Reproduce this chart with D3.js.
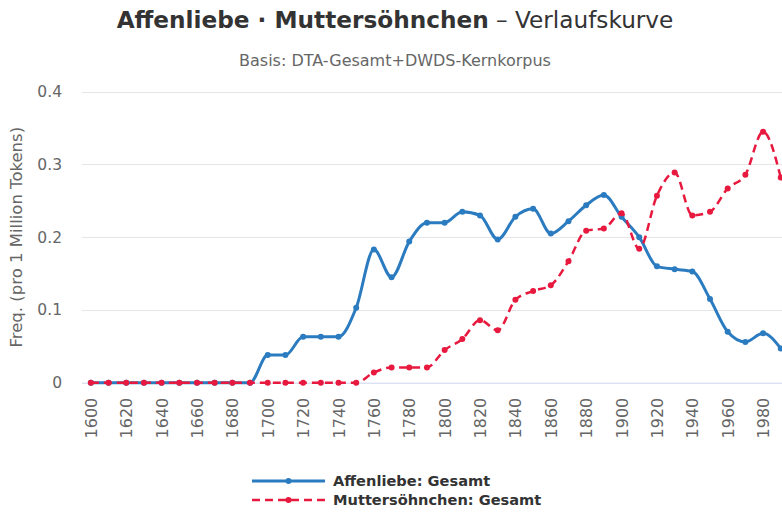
<!DOCTYPE html>
<html>
<head>
<meta charset="utf-8">
<script src="https://cdn.jsdelivr.net/npm/d3@7/dist/d3.min.js"></script>
<style>
  html, body { margin: 0; padding: 0; background: #fff; overflow: hidden; }
  svg { display: block; font-family: "DejaVu Sans", sans-serif; }
</style>
</head>
<body>
<svg id="chart" width="782" height="514"></svg>
<script>
// ---- Data ----
const years = d3.range(1600, 2000, 10);
const xTickLabels = d3.range(1600, 2000, 20);
const yTicks = [0, 0.1, 0.2, 0.3, 0.4];
const seriesNames = ["Affenliebe: Gesamt", "Muttersöhnchen: Gesamt"];
const affenliebe = [
  0, 0, 0, 0, 0, 0, 0, 0, 0, 0,            // 1600-1690
  0.038, 0.038, 0.063, 0.063, 0.063,       // 1700-1740
  0.103, 0.183, 0.145, 0.194, 0.220,       // 1750-1790
  0.220, 0.235, 0.230, 0.197, 0.228,       // 1800-1840
  0.239, 0.205, 0.222, 0.244, 0.258,       // 1850-1890
  0.228, 0.200, 0.160, 0.156, 0.153,       // 1900-1940
  0.115, 0.070, 0.056, 0.068, 0.047        // 1950-1990
];
const muttersoehnchen = [
  0, 0, 0, 0, 0, 0, 0, 0, 0, 0,            // 1600-1690
  0, 0, 0, 0, 0,                           // 1700-1740
  0, 0.014, 0.021, 0.021, 0.021,           // 1750-1790
  0.045, 0.060, 0.086, 0.072, 0.114,       // 1800-1840
  0.126, 0.134, 0.167, 0.209, 0.212,       // 1850-1890
  0.233, 0.184, 0.257, 0.289, 0.230,       // 1900-1940
  0.235, 0.267, 0.286, 0.345, 0.282        // 1950-1990
];
const colors = ["#2b7bc0", "#e8193f"];

// ---- Layout ----
const svg = d3.select("#chart");
const fullW = 790;
const cx = fullW / 2;
const plotLeft = 82, plotTop = 91.7, plotBottom = 382.7;
const step = 17.69;

const x = d3.scaleBand().domain(years).range([plotLeft, plotLeft + years.length * step]).padding(0);
const xc = d => x(d) + x.bandwidth() / 2;
const y = d3.scaleLinear().domain([0, 0.4]).range([plotBottom, plotTop]);

// Title
const title = svg.append("text")
  .attr("x", cx).attr("y", 28)
  .attr("text-anchor", "middle")
  .attr("fill", "#333")
  .style("font-size", "23.2px");
title.append("tspan").attr("font-weight", "bold").text("Affenliebe · Muttersöhnchen");
title.append("tspan").text(" – Verlaufskurve");

svg.append("text")
  .attr("x", cx).attr("y", 66)
  .attr("text-anchor", "middle")
  .attr("fill", "#666")
  .style("font-size", "16px")
  .text("Basis: DTA-Gesamt+DWDS-Kernkorpus");

// Grid
svg.append("g").selectAll("line")
  .data(yTicks.filter(d => d > 0))
  .join("line")
  .attr("x1", plotLeft).attr("x2", fullW)
  .attr("y1", d => Math.round(y(d)) + 0.5).attr("y2", d => Math.round(y(d)) + 0.5)
  .attr("stroke", "#e6e6e6").attr("stroke-width", 1);

// Y axis labels
const yAxis = d3.axisLeft(y).tickValues(yTicks).tickSize(0).tickPadding(20)
  .tickFormat(d => d === 0 ? "0" : d3.format(".1f")(d));
const gy = svg.append("g").attr("transform", `translate(${plotLeft},0)`).call(yAxis);
gy.select(".domain").remove();
gy.selectAll("text").attr("fill", "#666").style("font-size", "15.5px").style("font-family", "DejaVu Sans, sans-serif");

// X axis
const xAxis = d3.axisBottom(x).tickValues(xTickLabels).tickSize(0).tickPadding(0);
const gx = svg.append("g").attr("transform", `translate(0,${plotBottom})`).call(xAxis);
gx.select(".domain").attr("stroke", "#ccd6eb").attr("d", `M${plotLeft},0.5H${fullW}`);
gx.selectAll(".tick text")
  .attr("fill", "#666").style("font-size", "16px").style("font-family", "DejaVu Sans, sans-serif")
  .attr("text-anchor", "end")
  .attr("transform", "translate(6,15) rotate(-90)")
  .attr("dy", null).attr("y", 0).attr("x", 0);

// Y axis title
svg.append("text")
  .attr("transform", `translate(22,${(plotTop + plotBottom) / 2}) rotate(-90)`)
  .attr("text-anchor", "middle")
  .attr("fill", "#666")
  .style("font-size", "16.5px")
  .text("Freq. (pro 1 Million Tokens)");

// Lines
const line = d3.line().x((d, i) => xc(years[i])).y(d => y(d)).curve(d3.curveMonotoneX);
const allSeries = [affenliebe, muttersoehnchen];
allSeries.forEach((vals, si) => {
  const g = svg.append("g");
  g.append("path")
    .attr("d", line(vals))
    .attr("fill", "none")
    .attr("stroke", colors[si])
    .attr("stroke-width", si === 0 ? 3 : 2.5)
    .attr("stroke-dasharray", si === 1 ? "8,5" : null)
    .attr("stroke-linejoin", "round");
  g.selectAll("circle").data(vals).join("circle")
    .attr("cx", (d, i) => xc(years[i]))
    .attr("cy", d => y(d))
    .attr("r", 3)
    .attr("fill", colors[si]);
});

// Legend
const legend = svg.append("g");
seriesNames.forEach((name, i) => {
  const ly = 481 + i * 19;
  legend.append("line")
    .attr("x1", 252).attr("x2", 325).attr("y1", ly).attr("y2", ly)
    .attr("stroke", colors[i]).attr("stroke-width", i === 0 ? 3 : 2.5)
    .attr("stroke-dasharray", i === 1 ? "8,5" : null);
  legend.append("circle").attr("cx", 288.5).attr("cy", ly).attr("r", 3).attr("fill", colors[i]);
  legend.append("text")
    .attr("x", 333).attr("y", ly + 5)
    .attr("fill", "#333").attr("font-weight", "bold")
    .style("font-size", "14.6px")
    .text(name);
});
</script>
</body>
</html>
